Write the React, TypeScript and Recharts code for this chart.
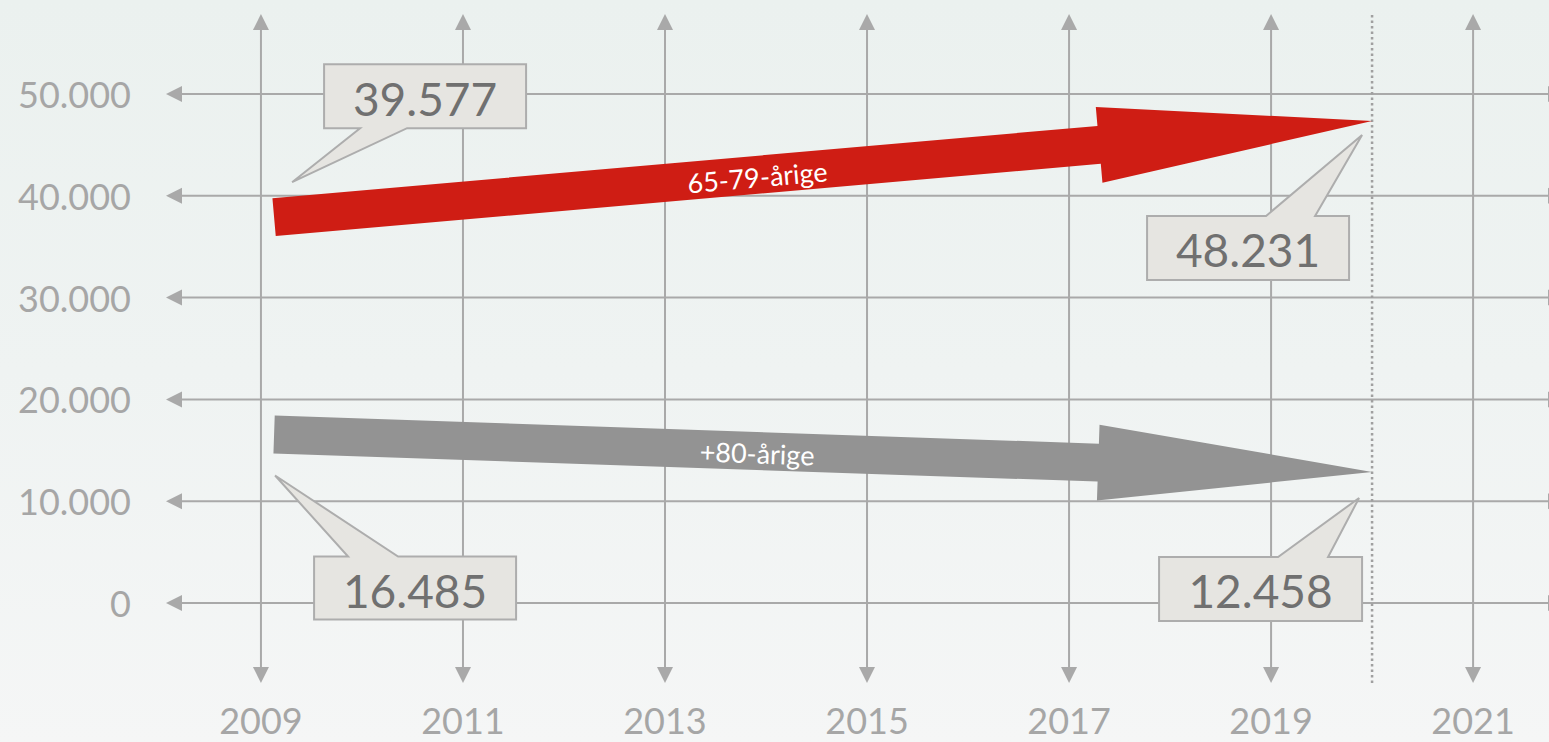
import React from "react";
import {
  ComposedChart,
  XAxis,
  YAxis,
  Scatter,
  ReferenceLine,
} from "recharts";

// axis ticks
const years = [2009, 2011, 2013, 2015, 2017, 2019, 2021];
const yTicks = [0, 10000, 20000, 30000, 40000, 50000];
const projectionYear = 2020;

// arrow start / end (centre line of each arrow)
const arrowYears = [2009.13, 2020];
const youngOldValues = [37900, 47350]; // 65-79-årige
const oldestValues = [16550, 12870]; // +80-årige

// numbers shown in the callouts
const youngOldLabels = [39577, 48231];
const oldestLabels = [16485, 12458];

const FONT = "Lato, 'Open Sans', sans-serif";
const GRID = "#a9a9a9";

const fmt = (v: number) =>
  String(Math.round(v)).replace(/\B(?=(\d{3})+(?!\d))/g, ".");

// offsets of a callout relative to its arrow end (px)
type CalloutStyle = {
  tip: [number, number];
  box: [number, number, number, number]; // x1, x2, y1, y2
  base: [number, number];
  side: "top" | "bottom";
};

const youngOldCallouts: CalloutStyle[] = [
  { tip: [18, -35], box: [50, 252, -153, -89], base: [86, 133], side: "bottom" },
  { tip: [-10, 14], box: [-225, -23, 95, 159], base: [-106, -57], side: "top" },
];
const oldestCallouts: CalloutStyle[] = [
  { tip: [1, 41], box: [40, 242, 122, 185], base: [74, 124], side: "top" },
  { tip: [-13, 26], box: [-213, -10, 85, 149], base: [-94, -44], side: "top" },
];

function Callout({ x, y, s, text }: { x: number; y: number; s: CalloutStyle; text: string }) {
  const [bx1, bx2, by1, by2] = s.box.map((d, i) => (i < 2 ? x + d : y + d));
  const tx = x + s.tip[0];
  const ty = y + s.tip[1];
  const b1 = x + s.base[0];
  const b2 = x + s.base[1];
  const d =
    s.side === "top"
      ? `M${bx1},${by1} H${b1} L${tx},${ty} L${b2},${by1} H${bx2} V${by2} H${bx1} Z`
      : `M${bx1},${by1} H${bx2} V${by2} H${b2} L${tx},${ty} L${b1},${by2} H${bx1} Z`;
  return (
    <g>
      <path d={d} fill="#e6e5e1" stroke="#adadad" strokeWidth={2} />
      <text
        x={(bx1 + bx2) / 2}
        y={(by1 + by2) / 2 + 2}
        textAnchor="middle"
        dominantBaseline="central"
        fontFamily={FONT}
        fontSize={46}
        fill="#707070"
      >
        {text}
      </text>
    </g>
  );
}

function FatArrow({
  points,
  color,
  label,
  labels,
  callouts,
}: {
  points: { x: number; y: number }[];
  color: string;
  label: string;
  labels: number[];
  callouts: CalloutStyle[];
}) {
  if (!points || points.length < 2) return null;
  const a = points[0];
  const b = points[points.length - 1];
  const dx = b.x - a.x;
  const dy = b.y - a.y;
  const len = Math.hypot(dx, dy);
  const ux = dx / len;
  const uy = dy / len;
  const nx = -uy;
  const ny = ux;
  const shaft = 19;
  const head = 38;
  const headLen = 274;
  const hx = b.x - ux * headLen;
  const hy = b.y - uy * headLen;
  const pts = [
    [a.x + nx * shaft, a.y + ny * shaft],
    [hx + nx * shaft, hy + ny * shaft],
    [hx + nx * head, hy + ny * head],
    [b.x, b.y],
    [hx - nx * head, hy - ny * head],
    [hx - nx * shaft, hy - ny * shaft],
    [a.x - nx * shaft, a.y - ny * shaft],
  ]
    .map((p) => p.join(","))
    .join(" ");
  const angle = (Math.atan2(dy, dx) * 180) / Math.PI;
  const lx = a.x + dx * 0.44;
  const ly = a.y + dy * 0.44;
  return (
    <g>
      <polygon points={pts} fill={color} />
      <text
        transform={`translate(${lx},${ly}) rotate(${angle})`}
        y={2}
        textAnchor="middle"
        dominantBaseline="central"
        fontFamily={FONT}
        fontSize={27}
        fill="#ffffff"
      >
        {label}
      </text>
      {points.map((p, i) => (
        <Callout key={i} x={p.x} y={p.y} s={callouts[i]} text={fmt(labels[i])} />
      ))}
    </g>
  );
}

// grid line with arrow heads at both ends
const GridArrowLine = (props: any) => {
  const { x1, y1, x2, y2 } = props;
  const h = 8;
  const l = 16;
  if (Math.abs(x1 - x2) < 0.5) {
    const top = Math.min(y1, y2);
    const bot = Math.max(y1, y2);
    return (
      <g>
        <line x1={x1} y1={top + 4} x2={x1} y2={bot - 4} stroke={GRID} strokeWidth={2} />
        <polygon points={`${x1},${top} ${x1 - h},${top + l} ${x1 + h},${top + l}`} fill={GRID} />
        <polygon points={`${x1},${bot} ${x1 - h},${bot - l} ${x1 + h},${bot - l}`} fill={GRID} />
      </g>
    );
  }
  const left = Math.min(x1, x2);
  const right = Math.max(x1, x2);
  return (
    <g>
      <line x1={left + 4} y1={y1} x2={right - 4} y2={y1} stroke={GRID} strokeWidth={2} />
      <polygon points={`${left},${y1} ${left + l},${y1 - h} ${left + l},${y1 + h}`} fill={GRID} />
      <polygon points={`${right},${y1} ${right - l},${y1 - h} ${right - l},${y1 + h}`} fill={GRID} />
    </g>
  );
};

const XTick = ({ x, payload }: any) => (
  <text x={x} y={720} textAnchor="middle" dominantBaseline="central" fontFamily={FONT} fontSize={36} fill="#a6a6a6">
    {payload.value}
  </text>
);

const YTick = ({ y, payload }: any) => (
  <text x={131} y={y} textAnchor="end" dominantBaseline="central" fontFamily={FONT} fontSize={36} fill="#a6a6a6">
    {fmt(payload.value)}
  </text>
);

const youngOldData = arrowYears.map((year, i) => ({ year, v: youngOldValues[i] }));
const oldestData = arrowYears.map((year, i) => ({ year, v: oldestValues[i] }));

export default function App() {
  return (
    <div
      style={{
        position: "absolute",
        left: 0,
        top: 0,
        width: 1549,
        height: 742,
        overflow: "hidden",
        background: "linear-gradient(to bottom, #ebf1ef 0%, #eff3f2 50%, #f5f6f6 100%)",
      }}
    >
      <ComposedChart width={1570} height={742} margin={{ top: 14, right: 6, bottom: 0, left: 0 }}>
        <XAxis
          type="number"
          dataKey="year"
          domain={[2008.06, 2021.9]}
          ticks={years}
          interval={0}
          allowDataOverflow
          axisLine={false}
          tickLine={false}
          height={59}
          tick={XTick}
        />
        <YAxis
          type="number"
          domain={[-7860, 57860]}
          ticks={yTicks}
          interval={0}
          allowDataOverflow
          axisLine={false}
          tickLine={false}
          width={166}
          tick={YTick}
        />
        {yTicks.map((v) => (
          <ReferenceLine key={"h" + v} y={v} shape={GridArrowLine} />
        ))}
        {years.map((y) => (
          <ReferenceLine key={"v" + y} x={y} shape={GridArrowLine} />
        ))}
        <ReferenceLine x={projectionYear} stroke="#a0a0a0" strokeWidth={2.5} strokeDasharray="2.5 3" />
        <Scatter
          data={youngOldData}
          dataKey="v"
          isAnimationActive={false}
          shape={() => <g />}
          line={(p: any) => (
            <FatArrow
              points={p.points}
              color="#cf1d14"
              label="65-79-årige"
              labels={youngOldLabels}
              callouts={youngOldCallouts}
            />
          )}
        />
        <Scatter
          data={oldestData}
          dataKey="v"
          isAnimationActive={false}
          shape={() => <g />}
          line={(p: any) => (
            <FatArrow
              points={p.points}
              color="#939393"
              label="+80-årige"
              labels={oldestLabels}
              callouts={oldestCallouts}
            />
          )}
        />
      </ComposedChart>
    </div>
  );
}
